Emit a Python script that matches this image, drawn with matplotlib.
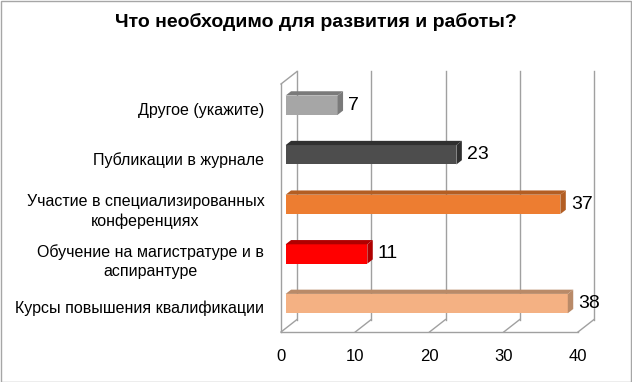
import matplotlib
matplotlib.use("Agg")
import matplotlib.pyplot as plt
from matplotlib.patches import Polygon, Rectangle

plt.rcParams['font.family'] = ['Liberation Sans', 'DejaVu Sans']

# data (bottom to top, as in the source chart)
categories = ["Курсы повышения квалификации",
              "Обучение на магистратуре и в\nаспирантуре",
              "Участие в специализированных\nконференциях",
              "Публикации в журнале",
              "Другое (укажите)"]
values = [38, 11, 37, 23, 7]
front_colors = ["#f4b183", "#ff0000", "#ed7d31", "#4d4d4d", "#a6a6a6"]
side_colors = ["#b98a68", "#b00000", "#b35e23", "#303030", "#7a7a7a"]
title = "Что необходимо для развития и работы?"
xticks = [0, 10, 20, 30, 40]

fig = plt.figure(figsize=(6.32, 3.82), dpi=100)
W, H = 632, 382
# front plane of the 3d box in pixels
fx0, fx1, fy0, fy1 = 281, 578, 84, 332
ax = fig.add_axes([fx0 / W, (H - fy1) / H, (fx1 - fx0) / W, (fy1 - fy0) / H])
ax.set_xlim(0, 40)
ax.set_ylim(-0.5, 4.5)

px_x = 40 / (fx1 - fx0)
px_y = 5 / (fy1 - fy0)
Dx = 16 * px_x      # depth offset
Dy = 12.5 * px_y
grid_c = "#a0a0a0"

# back wall grid
for t in xticks:
    ax.plot([t + Dx, t + Dx], [-0.5 + Dy, 4.5 + Dy], color=grid_c, lw=1, clip_on=False)
    ax.plot([t, t + Dx], [-0.5, -0.5 + Dy], color=grid_c, lw=1, clip_on=False)
# floor and left wall
ax.plot([0, 40], [-0.5, -0.5], color=grid_c, lw=1, clip_on=False)
ax.plot([0, 0], [-0.5, 4.5], color=grid_c, lw=1, clip_on=False)
ax.plot([0, Dx], [4.5, 4.5 + Dy], color=grid_c, lw=1, clip_on=False)

# bars
f, d = 0.29, 0.34
bh = 0.39
ypos = list(range(len(categories)))
x0 = f * Dx
yc = [y + f * Dy for y in ypos]
ax.barh(yc, values, height=bh, left=x0, color=front_colors, zorder=3)
for y, v, sc in zip(yc, values, side_colors):
    top = y + bh / 2
    bot = y - bh / 2
    ex = x0 + v
    ax.add_patch(Polygon([(x0, top), (ex, top), (ex + d * Dx, top + d * Dy), (x0 + d * Dx, top + d * Dy)],
                         closed=True, color=sc, zorder=3, clip_on=False, lw=0))
    ax.add_patch(Polygon([(ex, bot), (ex, top), (ex + d * Dx, top + d * Dy), (ex + d * Dx, bot + d * Dy)],
                         closed=True, color=sc, zorder=3, clip_on=False, lw=0))
    ax.text(ex + d * Dx + 5 * px_x, y, str(v), va="center", ha="left", fontsize=14, zorder=4)

ax.set_xticks(xticks)
ax.set_xticklabels([str(t) for t in xticks], fontsize=12)
ax.set_yticks(ypos)
ax.set_yticklabels(categories, fontsize=11.5, multialignment="center", linespacing=1.35)
ax.tick_params(axis="x", length=0, pad=12)
ax.tick_params(axis="y", length=0, pad=12)
for s in ax.spines.values():
    s.set_visible(False)
ax.patch.set_alpha(0)

fig.text(0.5, 1 - 22 / H, title, ha="center", va="center", fontsize=14, fontweight="bold")
fig.add_artist(Rectangle((0.5 / W, 0.5 / H), 1 - 1.5 / W, 1 - 1.5 / H, transform=fig.transFigure,
                         fill=False, edgecolor="#a6a6a6", lw=1))

fig.savefig("out.png", dpi=100)
